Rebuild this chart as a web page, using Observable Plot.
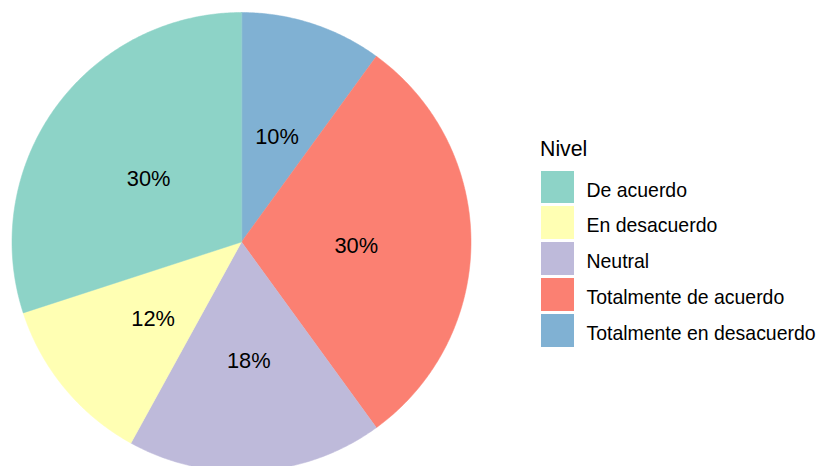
<!DOCTYPE html>
<html>
<head>
<meta charset="utf-8">
<script src="https://cdn.jsdelivr.net/npm/d3@7"></script>
<script src="https://cdn.jsdelivr.net/npm/@observablehq/plot@0.6"></script>
<style>
  html, body { margin: 0; padding: 0; background: #fff; }
  #wrap { position: relative; width: 817px; height: 466px; overflow: hidden; font-family: "Liberation Sans", Arial, sans-serif; }
  #wrap svg { position: absolute; left: 0; top: 0; }
  #legend { position: absolute; left: 540px; top: 138.7px; color: #000; }
  #legend .title { font-size: 21.3px; line-height: 21.3px; height: 32px; }
  #legend .row { position: relative; height: 35.8px; }
  #legend .sw { position: absolute; left: 1px; top: 0; width: 33px; height: 32.7px; }
  #legend .lab { position: absolute; left: 46.5px; top: 3px; font-size: 19.45px; line-height: 33px; white-space: nowrap; }
</style>
</head>
<body>
<div id="wrap"></div>
<script>
const categories = ["De acuerdo", "En desacuerdo", "Neutral", "Totalmente de acuerdo", "Totalmente en desacuerdo"];
const percents = [30, 12, 18, 30, 10];
const colors = ["#8DD3C7", "#FFFFB3", "#BEBADA", "#FB8072", "#80B1D3"];
const legendTitle = "Nivel";

// Build slice polygons clockwise from 12 o'clock, last category first (as ggplot stacks)
const total = d3.sum(percents);
const slicePts = [];
const labels = [];
let acc = 0;
for (let k = categories.length - 1; k >= 0; k--) {
  const a0 = acc / total * 2 * Math.PI;
  const a1 = (acc + percents[k]) / total * 2 * Math.PI;
  const cat = categories[k];
  slicePts.push({cat, x: 0, y: 0});
  const n = Math.max(2, Math.ceil((a1 - a0) / (Math.PI / 360)));
  for (let j = 0; j <= n; j++) {
    const a = a0 + (a1 - a0) * j / n;
    slicePts.push({cat, x: Math.sin(a), y: Math.cos(a)});
  }
  const am = (a0 + a1) / 2;
  labels.push({cat, x: 0.5 * Math.sin(am), y: 0.5 * Math.cos(am), text: percents[k] + "%"});
  acc += percents[k];
}

const plot = Plot.plot({
  width: 817,
  height: 466,
  margin: 0,
  style: {fontFamily: '"Liberation Sans", Arial, sans-serif', background: "#fff", overflow: "visible"},
  x: {domain: [-1, 1], range: [11.5, 470.5], axis: null},
  y: {domain: [-1, 1], range: [471, 12], axis: null},
  color: {domain: categories, range: colors},
  marks: [
    Plot.line(slicePts, {x: "x", y: "y", z: "cat", fill: "cat", stroke: "cat", strokeWidth: 0.5, curve: "linear-closed"}),
    Plot.text(labels, {x: "x", y: "y", text: "text", fontSize: 21.8, dy: 4, fill: "#000"})
  ]
});

const wrap = document.getElementById("wrap");
wrap.appendChild(plot);

const color = plot.scale("color");
const legend = document.createElement("div");
legend.id = "legend";
const t = document.createElement("div");
t.className = "title";
t.textContent = legendTitle;
legend.appendChild(t);
categories.forEach((c, i) => {
  const row = document.createElement("div");
  row.className = "row";
  const sw = document.createElement("div");
  sw.className = "sw";
  sw.style.background = color.apply(c);
  const lab = document.createElement("div");
  lab.className = "lab";
  lab.textContent = c;
  row.appendChild(sw);
  row.appendChild(lab);
  legend.appendChild(row);
});
wrap.appendChild(legend);
</script>
</body>
</html>
